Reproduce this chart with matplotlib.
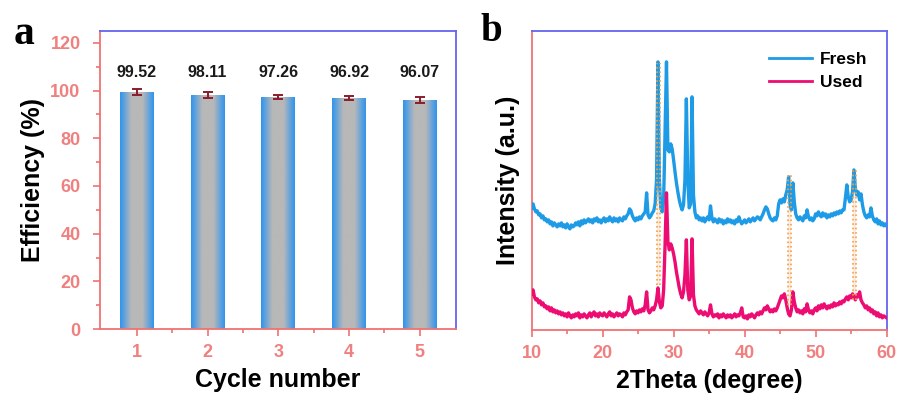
import numpy as np
import matplotlib
matplotlib.use("Agg")
import matplotlib.pyplot as plt
from matplotlib.colors import LinearSegmentedColormap

plt.rcParams['font.family'] = ['Liberation Sans', 'DejaVu Sans']

# ---- data, panel a ----
cycles = [1, 2, 3, 4, 5]
efficiency = [99.52, 98.11, 97.26, 96.92, 96.07]
eff_err = [1.2, 1.2, 1.0, 0.9, 1.1]
eff_labels = ["99.52", "98.11", "97.26", "96.92", "96.07"]

# ---- data, panel b (XRD, 0.2 degree steps from 10 to 60) ----
two_theta = np.round(np.arange(10, 60.001, 0.2), 1)
fresh = [
    122, 126, 121, 118, 119, 115, 116, 112, 114, 110,
    111, 108, 110, 106, 108, 104, 107, 105, 103, 106,
    104, 107, 103, 105, 102, 106, 103, 101, 105, 103,
    104, 107, 105, 108, 104, 109, 106, 110, 107, 109,
    111, 108, 110, 107, 111, 109, 112, 108, 110, 107,
    110, 112, 108, 111, 109, 113, 110, 108, 112, 109,
    111, 108, 112, 110, 109, 113, 111, 114, 116, 121,
    119, 114, 111, 109, 112, 110, 113, 111, 114, 116,
    118, 137, 115, 112, 114, 117, 119, 126, 150, 268,
    150, 122, 118, 130, 200, 268, 180, 178, 186, 181,
    170, 158, 147, 138, 130, 124, 120, 125, 150, 231,
    150, 122, 126, 233, 135, 118, 112, 114, 110, 112,
    109, 112, 108, 111, 113, 110, 124, 112, 108, 111,
    109, 107, 111, 108, 110, 106, 109, 107, 111, 108,
    110, 107, 109, 106, 110, 108, 113, 109, 106, 108,
    110, 107, 109, 111, 108, 110, 112, 109, 111, 113,
    112, 110, 113, 116, 120, 123, 121, 116, 112, 110,
    109, 112, 110, 114, 126, 130, 127, 131, 128, 135,
    140, 153, 126, 120, 147, 128, 116, 112, 110, 113,
    111, 109, 114, 112, 120, 113, 110, 112, 109, 111,
    116, 114, 118, 115, 113, 117, 114, 116, 112, 115,
    113, 116, 114, 117, 115, 118, 116, 119, 117, 120,
    120, 132, 145, 133, 128, 130, 138, 160, 142, 135,
    138, 130, 136, 125, 118, 114, 112, 115, 113, 122,
    114, 110, 108, 111, 106, 109, 105, 107, 104, 106,
    104,
]
used = [
    36, 40, 33, 30, 31, 27, 29, 25, 27, 23,
    24, 21, 23, 19, 22, 18, 20, 17, 19, 16,
    18, 15, 17, 14, 16, 13, 17, 14, 12, 15,
    13, 16, 14, 17, 12, 15, 13, 16, 14, 12,
    15, 17, 13, 16, 18, 14, 16, 13, 17, 15,
    14, 17, 15, 13, 16, 18, 14, 16, 13, 15,
    17, 14, 16, 15, 13, 17, 15, 18, 20, 33,
    30, 22, 18, 16, 19, 17, 20, 18, 21, 19,
    25, 38, 20, 17, 19, 22, 20, 24, 30, 42,
    28, 22, 24, 40, 85, 137, 88, 80, 86, 82,
    76, 68, 58, 50, 42, 36, 32, 38, 55, 90,
    40, 30, 34, 91, 35, 24, 20, 18, 16, 19,
    17, 15, 18, 16, 14, 17, 25, 16, 13, 15,
    14, 16, 12, 15, 13, 16, 14, 12, 15, 13,
    15, 12, 14, 16, 13, 15, 14, 17, 22, 13,
    12, 14, 11, 15, 13, 16, 14, 12, 15, 17,
    15, 18, 16, 19, 22, 20, 24, 21, 18, 20,
    18, 21, 19, 22, 26, 30, 34, 32, 36, 30,
    22, 16, 14, 20, 38, 28, 22, 18, 20, 17,
    19, 16, 21, 18, 26, 20, 17, 19, 16, 20,
    22, 19, 24, 21, 25, 22, 26, 23, 21, 24,
    22, 25, 23, 27, 24, 26, 25, 28, 26, 29,
    28, 31, 33, 30, 34, 32, 36, 33, 30, 35,
    33, 38, 30, 27, 25, 22, 24, 20, 22, 18,
    20, 16, 18, 14, 17, 13, 15, 12, 14, 13,
    12,
]
# matching peaks marked with dotted guides: (left, right, bottom, top)
guide_left = [27.6, 46.05, 55.25]
guide_right = [28.1, 46.55, 55.65]
guide_bottom = [45, 25, 30]
guide_top = [267, 155, 160]

red_ax = '#f07272'
blue_ax = '#6464ee'
tick_col = '#f08080'

fig = plt.figure(figsize=(9.01, 3.96), dpi=100)
ax1 = fig.add_axes([0.111, 0.169, 0.395, 0.753])
ax2 = fig.add_axes([0.590, 0.167, 0.394, 0.755])


def style_axes(ax):
    for s in ['left', 'bottom']:
        ax.spines[s].set_color(red_ax)
        ax.spines[s].set_linewidth(1.3)
    for s in ['top', 'right']:
        ax.spines[s].set_color(blue_ax)
        ax.spines[s].set_linewidth(1.3)
    ax.tick_params(which='both', direction='out', color=red_ax, width=1.2,
                   labelcolor=tick_col, labelsize=13)
    ax.tick_params(which='major', length=5)
    ax.tick_params(which='minor', length=3)
    ax.tick_params(top=False, right=False)
    for lab in ax.get_xticklabels() + ax.get_yticklabels():
        lab.set_fontweight('bold')


# ---- panel a ----
bars = ax1.bar(cycles, efficiency, width=0.48, color='none', zorder=2)
cmap = LinearSegmentedColormap.from_list('bargrad', ['#2f95ee', '#b8b8b8', '#b8b8b8', '#2f95ee'])
grad = np.linspace(0, 1, 64).reshape(1, -1)
for b in bars:
    x0, w, h = b.get_x(), b.get_width(), b.get_height()
    im = ax1.imshow(grad, extent=[x0, x0 + w, 0, h], aspect='auto', cmap=cmap,
                    zorder=2, interpolation='bicubic')
    im.set_clip_path(b)
ax1.errorbar(cycles, efficiency, yerr=eff_err, fmt='none', ecolor='#8b1c2c',
             elinewidth=1.4, capsize=3.5, capthick=1.4, zorder=3)
for c, lab in zip(cycles, eff_labels):
    ax1.text(c, 107.5, lab, ha='center', va='center', fontsize=11.5,
             fontweight='bold', color='#1a1a1a')
ax1.set_xlim(0.48, 5.51)
ax1.set_ylim(0, 125)
ax1.set_xticks(cycles)
ax1.set_xticks([1.5, 2.5, 3.5, 4.5], minor=True)
ax1.set_yticks(range(0, 121, 20))
ax1.set_yticks(range(10, 121, 20), minor=True)
style_axes(ax1)
ax1.tick_params(axis='y', pad=9)
ax1.tick_params(axis='x', pad=6)
ax1.set_xlabel('Cycle number', fontsize=18, fontweight='bold', labelpad=5)
ax1.set_ylabel('Efficiency (%)', fontsize=18, fontweight='bold', labelpad=4)

# ---- panel b ----
for xl, xr, yb, yt in zip(guide_left, guide_right, guide_bottom, guide_top):
    ax2.fill_betweenx([yb, yt], xl, xr, color='#fbd8cc', alpha=0.5, lw=0, zorder=1)
    ax2.plot([xl, xl], [yb, yt], ls=':', color='#f5a040', lw=1.2, zorder=4)
    ax2.plot([xr, xr], [yb, yt], ls=':', color='#f5a040', lw=1.2, zorder=4)
ax2.plot(two_theta, fresh, color='#1d9be6', lw=2.4, label='Fresh', zorder=3)
ax2.plot(two_theta, used, color='#ec0c72', lw=2.4, label='Used', zorder=3)
ax2.set_xlim(10, 60)
ax2.set_ylim(0, 299)
ax2.set_xticks(range(10, 61, 10))
ax2.set_xticks(range(15, 60, 10), minor=True)
ax2.set_yticks([])
style_axes(ax2)
ax2.tick_params(axis='x', pad=6)
ax2.set_xlabel('2Theta (degree)', fontsize=18, fontweight='bold', labelpad=5)
ax2.set_ylabel('Intensity (a.u.)', fontsize=18, fontweight='bold', labelpad=8)
leg = ax2.legend(loc='upper left', bbox_to_anchor=(0.635, 0.97), frameon=False,
                 handlelength=2.45, handletextpad=0.45, labelspacing=0.45,
                 borderpad=0.2, prop={'weight': 'bold', 'size': 12.5})
for ln in leg.get_lines():
    ln.set_linewidth(2.0)

fig.text(0.015, 0.915, 'a', fontsize=30, fontweight='bold', family='Liberation Serif', va='center')
fig.text(0.533, 0.92, 'b', fontsize=28, fontweight='bold', family='Liberation Serif', va='center')

fig.savefig('out.png', dpi=100)
